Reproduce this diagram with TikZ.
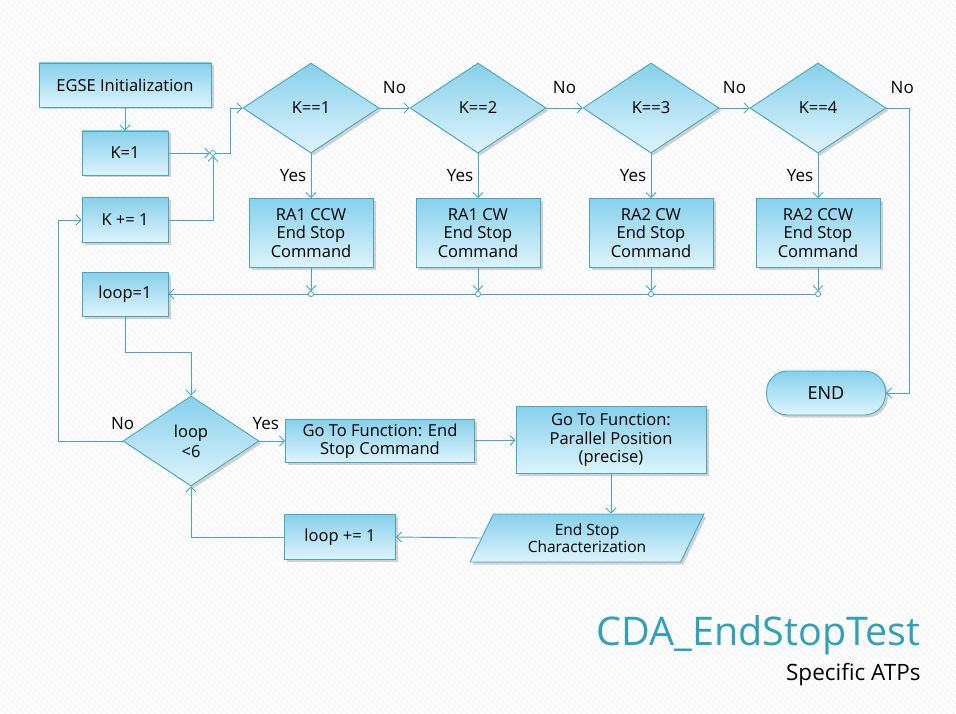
\documentclass[tikz,border=0pt]{standalone}
\usepackage{fontspec}
\setmainfont{Open Sans}
\usetikzlibrary{shapes.geometric,shadows,arrows.meta,positioning}

\definecolor{flowline}{RGB}{72,166,194}
\definecolor{flowtop}{RGB}{135,208,235}
\definecolor{flowbottom}{RGB}{222,244,252}
\definecolor{titleteal}{RGB}{50,160,182}

\begin{document}
\begin{tikzpicture}[x=1pt,y=-1pt,>={Straight Barb[length=5pt,width=10pt]},line width=0.9pt,
    box node/.style={rectangle,draw=flowline,top color=flowtop,bottom color=flowbottom,
        drop shadow={shadow xshift=2.5pt,shadow yshift=-2.5pt,opacity=0.35},
        align=center,inner sep=2pt,font=\fontsize{16.5}{18.5}\selectfont},
    decision node/.style={box node,diamond,minimum width=136pt,minimum height=90pt,aspect=1.5},
    dot node/.style={circle,draw=flowline,fill=white,line width=0.7pt,inner sep=0pt,minimum size=5pt},
    flow/.style={->,draw=flowline},
    tag/.style={font=\fontsize{17}{19}\selectfont}]

    % background
    \fill[white] (0,0) rectangle (956,714);
    \begin{scope}
        \clip (0,0) rectangle (956,714);
        \foreach \i in {-714,-708,...,956}
            \draw[black!5,line width=1pt] (\i,0) -- (\i+714,714);
    \end{scope}
    \useasboundingbox (0,0) rectangle (956,714);

    % nodes
    \node[box node,minimum width=172pt,minimum height=44pt] (init) at (125,85) {EGSE Initialization};
    \node[box node,minimum width=86pt,minimum height=44pt] (k1) at (125,153) {K=1};
    \node[box node,minimum width=86pt,minimum height=45pt] (kinc) at (125,220) {K += 1};
    \node[box node,minimum width=86pt,minimum height=44pt] (loopone) at (125,294) {loop=1};

    \node[decision node] (d1) at (311,108) {K==1};
    \node[decision node] (d2) at (478,108) {K==2};
    \node[decision node] (d3) at (651,108) {K==3};
    \node[decision node] (d4) at (818,108) {K==4};

    \node[box node,minimum width=124pt,minimum height=69pt] (ra1) at (311,233) {RA1 CCW\\End Stop\\Command};
    \node[box node,minimum width=124pt,minimum height=69pt] (ra2) at (478,233) {RA1 CW\\End Stop\\Command};
    \node[box node,minimum width=124pt,minimum height=69pt] (ra3) at (651,233) {RA2 CW\\End Stop\\Command};
    \node[box node,minimum width=124pt,minimum height=69pt] (ra4) at (818,233) {RA2 CCW\\End Stop\\Command};

    \node[box node,rounded corners=21pt,minimum width=119pt,minimum height=44pt,font=\fontsize{18}{20}\selectfont] (stop) at (826,393) {END};

    \node[decision node,font=\fontsize{16.5}{20}\selectfont] (dloop) at (191,441) {loop\\<6};
    \node[box node,minimum width=189pt,minimum height=43pt] (gofn) at (380,441) {Go To Function: End\\Stop Command};
    \node[box node,minimum width=190pt,minimum height=67pt] (gopar) at (611,440) {Go To Function:\\Parallel Position\\(precise)};
    \node[box node,trapezium,trapezium left angle=55,trapezium right angle=125,trapezium stretches body,
        minimum width=234pt,minimum height=48pt,font=\fontsize{15.5}{17.5}\selectfont] (esc) at (587,538) {End Stop\\Characterization};
    \node[box node,minimum width=111pt,minimum height=45pt] (linc) at (340,537) {loop += 1};

    % junctions
    \coordinate (c0) at (230,153);
    \coordinate (c4) at (909,108);
    \node[dot node] (j0) at (213,153) {};
    \node[dot node] (j1) at (311,294) {};
    \node[dot node] (j2) at (478,294) {};
    \node[dot node] (j3) at (651,294) {};
    \node[dot node] (j4) at (818,294) {};

    % connectors
    \draw[flow] (init) -- (k1);
    \draw[flow] (k1) -- (j0);
    \draw[flow] (kinc.east) -| (j0);
    \draw[flow] (j0) -- (c0) |- (d1.west);

    \draw[flow] (d1.east) -- node[tag,midway,above=11pt] {No} (d2.west);
    \draw[flow] (d2.east) -- node[tag,midway,above=11pt] {No} (d3.west);
    \draw[flow] (d3.east) -- node[tag,midway,above=11pt] {No} (d4.west);
    \draw[flow] (d4.east) -- node[tag,pos=0.7,above=11pt] {No} (c4) |- (stop.east);

    \draw[flow] (d1.south) -- node[tag,midway,left=1pt] {Yes} (ra1.north);
    \draw[flow] (d2.south) -- node[tag,midway,left=1pt] {Yes} (ra2.north);
    \draw[flow] (d3.south) -- node[tag,midway,left=1pt] {Yes} (ra3.north);
    \draw[flow] (d4.south) -- node[tag,midway,left=1pt] {Yes} (ra4.north);

    \draw[flow] (ra1) -- (j1);
    \draw[flow] (ra2) -- (j2);
    \draw[flow] (ra3) -- (j3);
    \draw[flow] (ra4) -- (j4);
    \draw[flow] (j4) -- (loopone.east);
    \foreach \j in {j1,j2,j3,j4}
        \node[dot node] at (\j) {};

    \draw[flow] (loopone.south) -- ++(0,36) -| (dloop.north);
    \draw[flow] (dloop.west) -- ++(-64,0) |- (kinc.west);
    \path (dloop.west) node[tag,above=8pt] {No};
    \draw[flow] (dloop.east) -- node[tag,pos=0.25,above=8pt] {Yes} (gofn.west);
    \draw[flow] (gofn) -- (gopar);
    \draw[flow] (gopar.south) -- (gopar.south |- esc.north);
    \draw[flow] (esc.west) -- (linc.east);
    \draw[flow] (linc.west) -| (dloop.south);

    % title
    \node[anchor=base east,inner sep=0pt,text=titleteal,font=\fontsize{39.5}{44}\selectfont] (title) at (921,645) {CDA\_EndStopTest};
    \node[anchor=base east,inner sep=0pt,font=\fontsize{22.5}{26}\selectfont] (subtitle) at (921,680) {Specific ATPs};

\end{tikzpicture}
\end{document}
